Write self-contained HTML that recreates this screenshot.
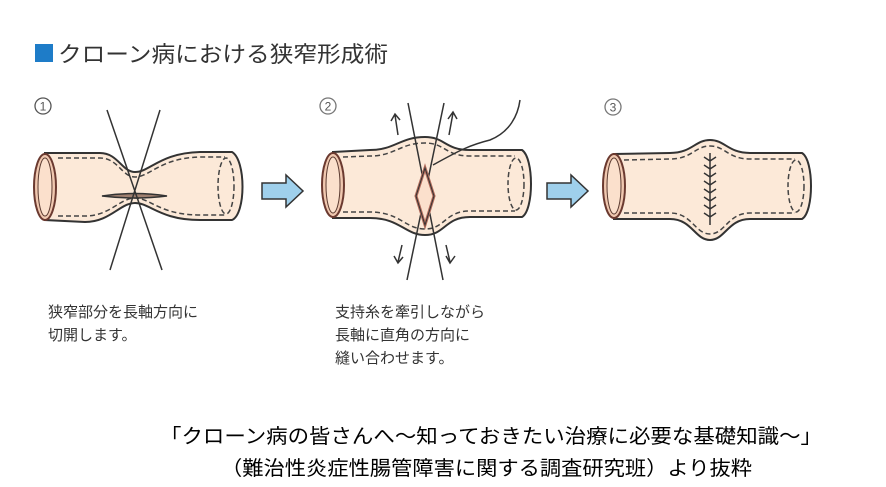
<!DOCTYPE html>
<html><head><meta charset="utf-8"><style>
html,body{margin:0;padding:0;background:#fff;}
svg{display:block;}
text{font-family:"Liberation Sans","Noto Sans CJK JP",sans-serif;}
</style></head><body>
<svg width="886" height="487" viewBox="0 0 886 487" xmlns="http://www.w3.org/2000/svg">
<rect x="35" y="44" width="18" height="18" fill="#1e7cc8"/>
<text x="58" y="62" font-size="22" fill="#333" textLength="330" lengthAdjust="spacingAndGlyphs">クローン病における狭窄形成術</text>

<g fill="#555">
<circle cx="43" cy="106" r="8" fill="none" stroke="#555" stroke-width="1.3"/><text x="43" y="110.5" font-size="12" text-anchor="middle">1</text>
<circle cx="328" cy="106" r="8" fill="none" stroke="#777" stroke-width="1.3"/><text x="328" y="110.5" font-size="12" text-anchor="middle">2</text>
<circle cx="613" cy="107" r="8" fill="none" stroke="#777" stroke-width="1.3"/><text x="613" y="111.5" font-size="12" text-anchor="middle">3</text>
</g>

<g stroke="#333" stroke-width="2" fill="#fce9d8">
<path d="M45,153 L100,153 C118,153 122,172 135,172 C150,172 160,153 200,152 L232,152 C246,160 246,214 232,220 L200,220 C160,220 150,203 135,203 C120,203 110,222 85,222 L45,220 Z"/>
<path d="M333,152 L370,150 C395,150 400,137 425,137 C445,137 445,150 470,150 L522,150 C534,158 534,210 522,217 L470,217 C445,217 445,235 425,235 C405,235 400,218 370,218 L333,218 Z"/>
<path d="M614,154 L670,153 C692,153 695,140 710,140 C725,140 728,153 750,153 L802,153 C814,160 814,212 802,219 L750,219 C728,219 725,240 710,240 C695,240 692,219 670,219 L614,219 Z"/>
</g>
<g fill="none" stroke="#444" stroke-width="1.5" stroke-dasharray="5,3">
<path d="M58,158 L100,158 C118,158 122,177 135,177 C150,177 160,158 200,157 L225,157 M58,216 L85,216 C110,216 120,198 135,198 C150,198 160,215 200,215 L225,215"/>
<ellipse cx="226" cy="186" rx="8" ry="28"/>
<path d="M343,157 L370,156 C395,156 400,143 425,143 C445,143 445,156 470,156 L515,156 M343,212 L370,212 C400,212 405,229 425,229 C445,229 445,211 470,211 L515,211"/>
<ellipse cx="516" cy="184" rx="8" ry="26"/>
<path d="M624,160 L670,159 C692,159 695,146 710,146 C725,146 728,159 750,159 L795,159 M624,213 L670,213 C692,213 695,234 710,234 C725,234 728,213 750,213 L795,213"/>
<ellipse cx="796" cy="186" rx="8" ry="26"/>
</g>
<g fill="#f0c8b0" stroke="#6b3a30" stroke-width="2">
<ellipse cx="45" cy="187" rx="11" ry="33"/>
<ellipse cx="333" cy="185" rx="11" ry="32"/>
<ellipse cx="614" cy="186" rx="11" ry="32"/>
</g>
<g fill="#fbe0cc" stroke="#5a3a30" stroke-width="1">
<ellipse cx="45" cy="187" rx="7" ry="29"/>
<ellipse cx="333" cy="185" rx="7" ry="28"/>
<ellipse cx="614" cy="186" rx="7" ry="28"/>
</g>
<path d="M102,196 Q135,191 167,196 Q135,200 102,196 Z" fill="#a08070" stroke="#333" stroke-width="1.5"/>
<g stroke="#333" stroke-width="1.5" fill="none">
<line x1="107" y1="110" x2="162" y2="270"/>
<line x1="160" y1="110" x2="110" y2="270"/>
<line x1="408" y1="103" x2="443" y2="280"/>
<line x1="444" y1="103" x2="407" y2="280"/>
<path d="M433,165 C460,150 470,145 490,140 C510,132 518,115 520,100"/>
<path d="M398,135 L395,115 M391,121 L395,114 L400,120"/>
<path d="M449,135 L453,113 M448,119 L453,112 L457,119"/>
<path d="M402,245 L398,262 M394,256 L398,263 L403,257"/>
<path d="M446,245 L450,262 M446,256 L450,263 L455,256"/>
<path d="M710,153 L710,225 M704,157 L710,161 L716,157 M704,165 L710,169 L716,165 M704,173 L710,177 L716,173 M704,181 L710,185 L716,181 M704,189 L710,193 L716,189 M704,197 L710,201 L716,197 M704,205 L710,209 L716,205 M704,213 L710,217 L716,213"/>
</g>
<path d="M425,168 L434,196 L425,225 L416,196 Z" fill="#fbe0cc" stroke="#b06a5a" stroke-width="3"/>
<path d="M425,168 L434,196 L425,225 L416,196 Z" fill="none" stroke="#333" stroke-width="1"/>
<path d="M262,183 L286,183 L286,175 L303,191 L286,207 L286,199 L262,199 Z" fill="#9fd0ec" stroke="#333" stroke-width="1.5"/>
<path d="M547,183 L571,183 L571,175 L588,191 L571,207 L571,199 L547,199 Z" fill="#9fd0ec" stroke="#333" stroke-width="1.5"/>

<g font-size="15" fill="#333">
<text x="48" y="317">狭窄部分を長軸方向に</text>
<text x="48" y="340">切開します。</text>
<text x="335" y="317">支持糸を牽引しながら</text>
<text x="335" y="340">長軸に直角の方向に</text>
<text x="335" y="363">縫い合わせます。</text>
</g>
<text x="160" y="443" font-size="20" fill="#000" textLength="662" lengthAdjust="spacingAndGlyphs">「クローン病の皆さんへ～知っておきたい治療に必要な基礎知識～」</text>
<text x="221" y="475" font-size="20" fill="#000" textLength="531" lengthAdjust="spacingAndGlyphs">（難治性炎症性腸管障害に関する調査研究班）より抜粋</text>
</svg>
</body></html>
